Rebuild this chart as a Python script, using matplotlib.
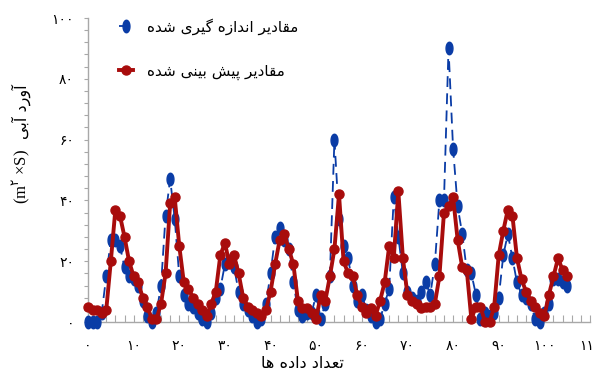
import matplotlib
matplotlib.use("Agg")
import matplotlib.pyplot as plt
import numpy as np
from matplotlib.path import Path
from matplotlib.ticker import MultipleLocator, FixedLocator

# measured (blue) and predicted (red) discharge, one value per sample
measured = [0, 0, 0, 3, 15, 27, 27, 25, 18, 15, 14, 12, 7, 2, 0, 3, 12, 35, 47, 34,
            15, 9, 6, 5, 3, 1, 0, 3, 8, 11, 19, 20, 18, 10, 6, 4, 2, 0, 1, 6,
            16, 28, 31, 27, 24, 13, 4, 2, 3, 3, 9, 1, 6, 15, 60, 34, 25, 21, 12, 7,
            9, 4, 2, 0, 1, 6, 11, 41, 28, 16, 10, 8, 7, 10, 13, 9, 19, 40, 40, 90,
            57, 38, 29, 17, 16, 9, 1, 3, 2, 3, 8, 22, 29, 21, 13, 9, 8, 6, 1, 0,
            3, 6, 14, 14, 13, 12]
predicted = [5, 4, 4, 3, 4, 20, 37, 35, 28, 20, 15, 13, 8, 5, 1, 1, 6, 16, 39, 41,
             25, 13, 11, 8, 6, 4, 2, 6, 10, 22, 26, 19, 22, 16, 8, 5, 4, 3, 2, 4,
             10, 19, 27, 29, 24, 19, 7, 4.5, 4.5, 3, 1, 9, 7, 15, 24, 42, 20, 16, 15, 9,
             5, 3, 4.5, 2, 7, 13, 25, 21, 43, 21, 9, 7, 6, 4.5, 5, 5, 6, 15, 36, 38,
             41, 27, 18, 17, 1, 5, 5, 0, 0, 5, 22, 30, 37, 35, 21, 14, 10, 7, 5, 3,
             2, 9, 15, 21, 17, 15]
x_ticks = list(range(0, 111, 10))
y_ticks = list(range(0, 101, 20))

label_measured = "مقادیر اندازه گیری شده"
label_predicted = "مقادیر پیش بینی شده"
label_x = "تعداد داده ها"
label_y = "آورد آبی"

# matplotlib has no Arabic shaping, so pick the joined glyph forms by hand
FORMS = {
    "ا": ("\uFE8D", "\uFE8E", None, None),
    "آ": ("\uFE81", "\uFE82", None, None),
    "ب": ("\uFE8F", "\uFE90", "\uFE91", "\uFE92"),
    "پ": ("\uFB56", "\uFB57", "\uFB58", "\uFB59"),
    "ت": ("\uFE95", "\uFE96", "\uFE97", "\uFE98"),
    "د": ("\uFEA9", "\uFEAA", None, None),
    "ر": ("\uFEAD", "\uFEAE", None, None),
    "ز": ("\uFEAF", "\uFEB0", None, None),
    "ش": ("\uFEB5", "\uFEB6", "\uFEB7", "\uFEB8"),
    "ع": ("\uFEC9", "\uFECA", "\uFECB", "\uFECC"),
    "ق": ("\uFED5", "\uFED6", "\uFED7", "\uFED8"),
    "م": ("\uFEE1", "\uFEE2", "\uFEE3", "\uFEE4"),
    "ن": ("\uFEE5", "\uFEE6", "\uFEE7", "\uFEE8"),
    "ه": ("\uFEE9", "\uFEEA", "\uFEEB", "\uFEEC"),
    "و": ("\uFEED", "\uFEEE", None, None),
    "ی": ("\uFBFC", "\uFBFD", "\uFBFE", "\uFBFF"),
    "گ": ("\uFB92", "\uFB93", "\uFB94", "\uFB95"),
}


def fa(text):
    out = []
    for i, ch in enumerate(text):
        if ch not in FORMS:
            out.append(ch)
            continue
        prev = text[i - 1] if i > 0 else ""
        nxt = text[i + 1] if i + 1 < len(text) else ""
        join_prev = prev in FORMS and FORMS[prev][2] is not None
        join_next = nxt in FORMS and FORMS[ch][2] is not None
        iso, fin, ini, med = FORMS[ch]
        if join_prev and join_next:
            out.append(med)
        elif join_prev:
            out.append(fin)
        elif join_next:
            out.append(ini)
        else:
            out.append(iso)
    return "".join(reversed(out))


def fa_num(n):
    return str(n).translate(str.maketrans("0123456789", "۰۱۲۳۴۵۶۷۸۹"))


plt.rcParams["font.family"] = ["DejaVu Sans"]
plt.rcParams["mathtext.fontset"] = "dejavusans"

t = np.linspace(0, 2 * np.pi, 40)
oval = Path(np.column_stack([0.55 * np.cos(t), np.sin(t)]), closed=True)

blue = "#0a3ca6"
red = "#a80c0c"

fig = plt.figure(figsize=(5.95, 3.81), dpi=100)
ax = fig.add_axes([88 / 595, 1 - 322 / 381, 502 / 595, 304 / 381])

x = np.arange(len(measured))
ax.plot(x, measured, color=blue, lw=1.3, ls=(0, (6, 3.5)), marker=oval,
        ms=9, mec=blue, mfc=blue, clip_on=False, zorder=3, label=fa(label_measured))
ax.plot(np.arange(len(predicted)), predicted, color=red, lw=2.8, marker="o",
        ms=6.5, mec=red, mfc=red, clip_on=False, zorder=4, label=fa(label_predicted))

ax.set_xlim(0, 110)
ax.set_ylim(0, 100)
ax.xaxis.set_major_locator(FixedLocator(x_ticks))
ax.xaxis.set_minor_locator(MultipleLocator(2))
ax.yaxis.set_major_locator(FixedLocator(y_ticks))
ax.yaxis.set_minor_locator(MultipleLocator(4))
ax.set_xticklabels([fa_num(v) for v in x_ticks])
ax.set_yticklabels([fa_num(v) for v in y_ticks])

for side in ("top", "right"):
    ax.spines[side].set_visible(False)
for side in ("left", "bottom"):
    ax.spines[side].set_color("#a8a8a8")
    ax.spines[side].set_linewidth(1.0)

ax.tick_params(axis="x", which="both", direction="in", length=5, width=0.8,
               color="#a8a8a8", pad=12, labelsize=10)
ax.tick_params(axis="y", which="both", direction="out", length=3, width=0.8,
               color="#a8a8a8", pad=7, labelsize=10)

leg = ax.legend(loc="upper left", bbox_to_anchor=(0.035, 1.045), frameon=False,
                fontsize=11, handlelength=0.9, handletextpad=0.9,
                labelspacing=1.9)

fig.text(302 / 595, 1 - 364 / 381, fa(label_x), ha="center", va="center", fontsize=11.5)
fig.text(21 / 595, 1 - 112 / 381, fa(label_y), ha="center", va="center",
         rotation=90, fontsize=11.5)
fig.text(21 / 595, 1 - 176 / 381, "(m$^{۲}$ ×S)", ha="center", va="center",
         rotation=90, fontsize=12, family=["Liberation Serif", "DejaVu Sans"])

fig.savefig("out.png", dpi=100)
plt.close(fig)
